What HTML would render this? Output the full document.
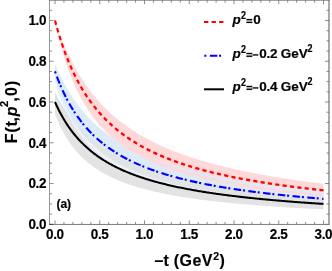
<!DOCTYPE html>
<html><head><meta charset="utf-8"><title>plot</title>
<style>html,body{margin:0;padding:0;background:#fff;overflow:hidden}svg text{font-family:"Liberation Sans",sans-serif}</style></head>
<body>
<svg width="332" height="271" viewBox="0 0 332 271" style="display:block">
<rect width="332" height="271" fill="#fff"/>
<polygon points="55.00,20.50 56.35,24.54 57.70,28.43 59.05,32.16 60.40,35.76 61.75,39.23 63.10,42.56 64.44,45.79 65.79,48.90 67.14,51.90 68.49,54.80 69.84,57.60 71.19,60.32 72.54,62.95 73.89,65.49 75.24,67.96 76.59,70.35 77.94,72.66 79.29,74.91 80.64,77.10 81.98,79.22 83.33,81.28 84.68,83.28 86.03,85.23 87.38,87.12 88.73,88.96 90.08,90.76 91.43,92.51 92.78,94.21 94.13,95.87 95.48,97.48 96.83,99.06 98.18,100.60 99.53,102.10 100.87,103.57 102.22,105.00 103.57,106.39 104.92,107.76 106.27,109.09 107.62,110.39 108.97,111.67 110.32,112.91 111.67,114.13 113.02,115.32 114.37,116.49 115.72,117.63 117.07,118.75 118.41,119.84 119.76,120.92 121.11,121.97 122.46,123.00 123.81,124.01 125.16,124.99 126.51,125.96 127.86,126.91 129.21,127.85 130.56,128.76 131.91,129.66 133.26,130.54 134.61,131.41 135.95,132.25 137.30,133.09 138.65,133.91 140.00,134.71 141.35,135.50 142.70,136.28 144.05,137.04 145.40,137.79 146.75,138.53 148.10,139.25 149.45,139.96 150.80,140.66 152.15,141.35 153.49,142.03 154.84,142.70 156.19,143.35 157.54,144.00 158.89,144.63 160.24,145.26 161.59,145.87 162.94,146.48 164.29,147.08 165.64,147.66 166.99,148.24 168.34,148.81 169.69,149.37 171.04,149.93 172.38,150.47 173.73,151.01 175.08,151.54 176.43,152.06 177.78,152.58 179.13,153.08 180.48,153.58 181.83,154.08 183.18,154.56 184.53,155.04 185.88,155.51 187.23,155.98 188.58,156.44 189.92,156.90 191.27,157.34 192.62,157.79 193.97,158.22 195.32,158.65 196.67,159.08 198.02,159.50 199.37,159.91 200.72,160.32 202.07,160.72 203.42,161.12 204.77,161.52 206.12,161.91 207.46,162.29 208.81,162.67 210.16,163.04 211.51,163.42 212.86,163.78 214.21,164.14 215.56,164.50 216.91,164.85 218.26,165.20 219.61,165.55 220.96,165.89 222.31,166.22 223.66,166.56 225.01,166.89 226.35,167.21 227.70,167.53 229.05,167.85 230.40,168.17 231.75,168.48 233.10,168.78 234.45,169.09 235.80,169.39 237.15,169.69 238.50,169.98 239.85,170.27 241.20,170.56 242.55,170.85 243.89,171.13 245.24,171.41 246.59,171.69 247.94,171.96 249.29,172.23 250.64,172.50 251.99,172.76 253.34,173.02 254.69,173.28 256.04,173.54 257.39,173.80 258.74,174.05 260.09,174.30 261.43,174.54 262.78,174.79 264.13,175.03 265.48,175.27 266.83,175.51 268.18,175.74 269.53,175.98 270.88,176.21 272.23,176.44 273.58,176.66 274.93,176.89 276.28,177.11 277.63,177.33 278.97,177.55 280.32,177.76 281.67,177.98 283.02,178.19 284.37,178.40 285.72,178.61 287.07,178.81 288.42,179.02 289.77,179.22 291.12,179.42 292.47,179.62 293.82,179.82 295.17,180.01 296.52,180.21 297.86,180.40 299.21,180.59 300.56,180.78 301.91,180.97 303.26,181.15 304.61,181.34 305.96,181.52 307.31,181.70 308.66,181.88 310.01,182.06 311.36,182.23 312.71,182.41 314.06,182.58 315.40,182.75 316.75,182.92 318.10,183.09 319.45,183.26 320.80,183.43 322.15,183.59 323.50,183.76 323.50,196.44 322.15,196.32 320.80,196.20 319.45,196.08 318.10,195.95 316.75,195.82 315.40,195.70 314.06,195.57 312.71,195.44 311.36,195.31 310.01,195.18 308.66,195.05 307.31,194.91 305.96,194.78 304.61,194.64 303.26,194.50 301.91,194.36 300.56,194.22 299.21,194.08 297.86,193.94 296.52,193.80 295.17,193.65 293.82,193.50 292.47,193.35 291.12,193.20 289.77,193.05 288.42,192.90 287.07,192.75 285.72,192.59 284.37,192.43 283.02,192.27 281.67,192.11 280.32,191.95 278.97,191.79 277.63,191.62 276.28,191.46 274.93,191.29 273.58,191.12 272.23,190.94 270.88,190.77 269.53,190.59 268.18,190.42 266.83,190.24 265.48,190.05 264.13,189.87 262.78,189.68 261.43,189.50 260.09,189.31 258.74,189.12 257.39,188.92 256.04,188.73 254.69,188.53 253.34,188.33 251.99,188.12 250.64,187.92 249.29,187.71 247.94,187.50 246.59,187.29 245.24,187.08 243.89,186.86 242.55,186.64 241.20,186.42 239.85,186.19 238.50,185.97 237.15,185.73 235.80,185.50 234.45,185.27 233.10,185.03 231.75,184.79 230.40,184.54 229.05,184.29 227.70,184.04 226.35,183.79 225.01,183.53 223.66,183.27 222.31,183.01 220.96,182.74 219.61,182.47 218.26,182.19 216.91,181.92 215.56,181.64 214.21,181.35 212.86,181.06 211.51,180.77 210.16,180.47 208.81,180.17 207.46,179.86 206.12,179.55 204.77,179.24 203.42,178.92 202.07,178.60 200.72,178.27 199.37,177.94 198.02,177.60 196.67,177.26 195.32,176.91 193.97,176.56 192.62,176.20 191.27,175.84 189.92,175.47 188.58,175.10 187.23,174.72 185.88,174.33 184.53,173.94 183.18,173.54 181.83,173.14 180.48,172.73 179.13,172.31 177.78,171.88 176.43,171.45 175.08,171.01 173.73,170.57 172.38,170.11 171.04,169.65 169.69,169.18 168.34,168.71 166.99,168.22 165.64,167.73 164.29,167.23 162.94,166.71 161.59,166.19 160.24,165.66 158.89,165.12 157.54,164.57 156.19,164.01 154.84,163.44 153.49,162.86 152.15,162.26 150.80,161.66 149.45,161.04 148.10,160.41 146.75,159.77 145.40,159.11 144.05,158.45 142.70,157.76 141.35,157.07 140.00,156.35 138.65,155.63 137.30,154.89 135.95,154.13 134.61,153.35 133.26,152.56 131.91,151.75 130.56,150.92 129.21,150.07 127.86,149.20 126.51,148.31 125.16,147.40 123.81,146.47 122.46,145.52 121.11,144.54 119.76,143.54 118.41,142.51 117.07,141.45 115.72,140.37 114.37,139.26 113.02,138.12 111.67,136.94 110.32,135.74 108.97,134.50 107.62,133.23 106.27,131.92 104.92,130.57 103.57,129.18 102.22,127.75 100.87,126.28 99.53,124.76 98.18,123.19 96.83,121.57 95.48,119.90 94.13,118.18 92.78,116.39 91.43,114.55 90.08,112.64 88.73,110.66 87.38,108.62 86.03,106.49 84.68,104.29 83.33,102.01 81.98,99.63 80.64,97.16 79.29,94.60 77.94,91.92 76.59,89.14 75.24,86.23 73.89,83.20 72.54,80.03 71.19,76.71 69.84,73.24 68.49,69.60 67.14,65.78 65.79,61.77 64.44,57.55 63.10,53.10 61.75,48.41 60.40,43.46 59.05,38.22 57.70,32.66 56.35,26.77 55.00,20.50" fill="#ffd9d9"/>
<polygon points="55.00,63.86 56.35,67.06 57.70,70.14 59.05,73.09 60.40,75.93 61.75,78.67 63.10,81.30 64.44,83.84 65.79,86.28 67.14,88.64 68.49,90.92 69.84,93.13 71.19,95.26 72.54,97.31 73.89,99.31 75.24,101.24 76.59,103.11 77.94,104.92 79.29,106.68 80.64,108.38 81.98,110.04 83.33,111.65 84.68,113.21 86.03,114.73 87.38,116.20 88.73,117.64 90.08,119.03 91.43,120.39 92.78,121.72 94.13,123.01 95.48,124.26 96.83,125.49 98.18,126.68 99.53,127.85 100.87,128.98 102.22,130.09 103.57,131.17 104.92,132.23 106.27,133.26 107.62,134.27 108.97,135.26 110.32,136.22 111.67,137.16 113.02,138.09 114.37,138.99 115.72,139.87 117.07,140.73 118.41,141.58 119.76,142.41 121.11,143.22 122.46,144.01 123.81,144.79 125.16,145.55 126.51,146.30 127.86,147.03 129.21,147.75 130.56,148.46 131.91,149.15 133.26,149.83 134.61,150.49 135.95,151.15 137.30,151.79 138.65,152.42 140.00,153.04 141.35,153.64 142.70,154.24 144.05,154.83 145.40,155.40 146.75,155.97 148.10,156.53 149.45,157.07 150.80,157.61 152.15,158.14 153.49,158.66 154.84,159.17 156.19,159.67 157.54,160.17 158.89,160.66 160.24,161.14 161.59,161.61 162.94,162.07 164.29,162.53 165.64,162.98 166.99,163.43 168.34,163.86 169.69,164.29 171.04,164.72 172.38,165.13 173.73,165.55 175.08,165.95 176.43,166.35 177.78,166.75 179.13,167.13 180.48,167.52 181.83,167.89 183.18,168.27 184.53,168.63 185.88,168.99 187.23,169.35 188.58,169.70 189.92,170.06 191.27,170.41 192.62,170.77 193.97,171.11 195.32,171.46 196.67,171.80 198.02,172.13 199.37,172.46 200.72,172.79 202.07,173.11 203.42,173.43 204.77,173.74 206.12,174.05 207.46,174.36 208.81,174.66 210.16,174.96 211.51,175.25 212.86,175.54 214.21,175.83 215.56,176.12 216.91,176.40 218.26,176.68 219.61,176.95 220.96,177.23 222.31,177.49 223.66,177.76 225.01,178.02 226.35,178.28 227.70,178.54 229.05,178.79 230.40,179.04 231.75,179.29 233.10,179.54 234.45,179.78 235.80,180.02 237.15,180.26 238.50,180.50 239.85,180.73 241.20,180.96 242.55,181.19 243.89,181.41 245.24,181.64 246.59,181.86 247.94,182.08 249.29,182.29 250.64,182.51 251.99,182.72 253.34,182.93 254.69,183.14 256.04,183.34 257.39,183.55 258.74,183.75 260.09,183.95 261.43,184.15 262.78,184.34 264.13,184.53 265.48,184.73 266.83,184.92 268.18,185.11 269.53,185.29 270.88,185.48 272.23,185.66 273.58,185.84 274.93,186.02 276.28,186.20 277.63,186.38 278.97,186.55 280.32,186.72 281.67,186.89 283.02,187.06 284.37,187.23 285.72,187.40 287.07,187.57 288.42,187.73 289.77,187.89 291.12,188.05 292.47,188.21 293.82,188.37 295.17,188.53 296.52,188.68 297.86,188.84 299.21,188.99 300.56,189.14 301.91,189.29 303.26,189.44 304.61,189.59 305.96,189.73 307.31,189.88 308.66,190.02 310.01,190.17 311.36,190.31 312.71,190.45 314.06,190.59 315.40,190.73 316.75,190.86 318.10,191.00 319.45,191.13 320.80,191.27 322.15,191.40 323.50,191.53 323.50,205.03 322.15,204.95 320.80,204.86 319.45,204.78 318.10,204.69 316.75,204.60 315.40,204.52 314.06,204.43 312.71,204.34 311.36,204.25 310.01,204.16 308.66,204.06 307.31,203.97 305.96,203.88 304.61,203.78 303.26,203.69 301.91,203.59 300.56,203.49 299.21,203.40 297.86,203.30 296.52,203.20 295.17,203.10 293.82,202.99 292.47,202.89 291.12,202.79 289.77,202.68 288.42,202.58 287.07,202.47 285.72,202.36 284.37,202.25 283.02,202.14 281.67,202.03 280.32,201.92 278.97,201.80 277.63,201.69 276.28,201.57 274.93,201.46 273.58,201.34 272.23,201.22 270.88,201.10 269.53,200.98 268.18,200.85 266.83,200.73 265.48,200.60 264.13,200.47 262.78,200.35 261.43,200.22 260.09,200.08 258.74,199.95 257.39,199.82 256.04,199.68 254.69,199.54 253.34,199.40 251.99,199.26 250.64,199.12 249.29,198.98 247.94,198.83 246.59,198.68 245.24,198.54 243.89,198.39 242.55,198.23 241.20,198.08 239.85,197.92 238.50,197.76 237.15,197.61 235.80,197.44 234.45,197.28 233.10,197.11 231.75,196.95 230.40,196.78 229.05,196.60 227.70,196.43 226.35,196.25 225.01,196.08 223.66,195.89 222.31,195.71 220.96,195.53 219.61,195.34 218.26,195.15 216.91,194.95 215.56,194.76 214.21,194.56 212.86,194.36 211.51,194.16 210.16,193.95 208.81,193.74 207.46,193.53 206.12,193.31 204.77,193.09 203.42,192.87 202.07,192.65 200.72,192.42 199.37,192.19 198.02,191.96 196.67,191.72 195.32,191.48 193.97,191.23 192.62,190.98 191.27,190.73 189.92,190.48 188.58,190.22 187.23,189.95 185.88,189.68 184.53,189.41 183.18,189.13 181.83,188.85 180.48,188.57 179.13,188.28 177.78,187.98 176.43,187.68 175.08,187.38 173.73,187.07 172.38,186.75 171.04,186.43 169.69,186.10 168.34,185.77 166.99,185.43 165.64,185.09 164.29,184.74 162.94,184.38 161.59,184.02 160.24,183.65 158.89,183.27 157.54,182.89 156.19,182.50 154.84,182.10 153.49,181.70 152.15,181.28 150.80,180.86 149.45,180.43 148.10,179.99 146.75,179.55 145.40,179.09 144.05,178.62 142.70,178.15 141.35,177.66 140.00,177.17 138.65,176.66 137.30,176.14 135.95,175.61 134.61,175.07 133.26,174.52 131.91,173.96 130.56,173.38 129.21,172.79 127.86,172.18 126.51,171.56 125.16,170.92 123.81,170.27 122.46,169.61 121.11,168.92 119.76,168.22 118.41,167.50 117.07,166.77 115.72,166.01 114.37,165.23 113.02,164.44 111.67,163.62 110.32,162.77 108.97,161.91 107.62,161.02 106.27,160.10 104.92,159.16 103.57,158.19 102.22,157.19 100.87,156.15 99.53,155.09 98.18,153.99 96.83,152.86 95.48,151.69 94.13,150.48 92.78,149.23 91.43,147.94 90.08,146.60 88.73,145.21 87.38,143.77 86.03,142.28 84.68,140.74 83.33,139.13 81.98,137.46 80.64,135.73 79.29,133.92 77.94,132.04 76.59,130.08 75.24,128.03 73.89,125.90 72.54,123.66 71.19,121.32 69.84,118.87 68.49,116.31 67.14,113.61 65.79,110.77 64.44,107.79 63.10,104.64 61.75,101.32 60.40,97.82 59.05,94.10 57.70,90.16 56.35,85.97 55.00,81.52" fill="#dcebfa"/>
<polygon points="55.00,20.50 56.35,26.24 57.70,31.67 59.05,36.81 60.40,41.68 61.75,46.30 63.10,50.70 64.44,54.88 65.79,58.87 67.14,62.67 68.49,66.30 69.84,69.78 71.19,73.10 72.54,76.28 73.89,79.34 75.24,82.27 76.59,85.08 77.94,87.78 79.29,90.38 80.64,92.89 81.98,95.30 83.33,97.62 84.68,99.87 86.03,102.03 87.38,104.12 88.73,106.14 90.08,108.09 91.43,109.98 92.78,111.81 94.13,113.58 95.48,115.30 96.83,116.96 98.18,118.58 99.53,120.15 100.87,121.67 102.22,123.14 103.57,124.58 104.92,125.97 106.27,127.33 107.62,128.65 108.97,129.93 110.32,131.18 111.67,132.40 113.02,133.59 114.37,134.74 115.72,135.87 117.07,136.97 118.41,138.04 119.76,139.08 121.11,140.10 122.46,141.10 123.81,142.07 125.16,143.03 126.51,143.95 127.86,144.86 129.21,145.75 130.56,146.62 131.91,147.47 133.26,148.30 134.61,149.11 135.95,149.91 137.30,150.69 138.65,151.45 140.00,152.20 141.35,152.93 142.70,153.64 144.05,154.35 145.40,155.04 146.75,155.71 148.10,156.38 149.45,157.03 150.80,157.66 152.15,158.29 153.49,158.90 154.84,159.51 156.19,160.10 157.54,160.68 158.89,161.25 160.24,161.81 161.59,162.36 162.94,162.90 164.29,163.43 165.64,163.96 166.99,164.47 168.34,164.97 169.69,165.47 171.04,165.96 172.38,166.44 173.73,166.91 175.08,167.38 176.43,167.83 177.78,168.28 179.13,168.73 180.48,169.16 181.83,169.59 183.18,170.01 184.53,170.43 185.88,170.84 187.23,171.24 188.58,171.64 189.92,172.03 191.27,172.42 192.62,172.80 193.97,173.17 195.32,173.54 196.67,173.91 198.02,174.26 199.37,174.62 200.72,174.97 202.07,175.31 203.42,175.65 204.77,175.98 206.12,176.31 207.46,176.64 208.81,176.96 210.16,177.28 211.51,177.59 212.86,177.90 214.21,178.20 215.56,178.50 216.91,178.80 218.26,179.09 219.61,179.38 220.96,179.66 222.31,179.95 223.66,180.22 225.01,180.50 226.35,180.77 227.70,181.04 229.05,181.30 230.40,181.56 231.75,181.82 233.10,182.08 234.45,182.33 235.80,182.58 237.15,182.82 238.50,183.07 239.85,183.31 241.20,183.55 242.55,183.78 243.89,184.01 245.24,184.24 246.59,184.47 247.94,184.69 249.29,184.92 250.64,185.14 251.99,185.35 253.34,185.57 254.69,185.78 256.04,185.99 257.39,186.20 258.74,186.40 260.09,186.61 261.43,186.81 262.78,187.01 264.13,187.20 265.48,187.40 266.83,187.59 268.18,187.78 269.53,187.97 270.88,188.16 272.23,188.34 273.58,188.52 274.93,188.71 276.28,188.88 277.63,189.06 278.97,189.24 280.32,189.41 281.67,189.58 283.02,189.75 284.37,189.92 285.72,190.09 287.07,190.26 288.42,190.42 289.77,190.58 291.12,190.74 292.47,190.90 293.82,191.06 295.17,191.22 296.52,191.37 297.86,191.53 299.21,191.68 300.56,191.83 301.91,191.98 303.26,192.13 304.61,192.27 305.96,192.42 307.31,192.56 308.66,192.70 310.01,192.85 311.36,192.99 312.71,193.13 314.06,193.26 315.40,193.40 316.75,193.53 318.10,193.67 319.45,193.80 320.80,193.93 322.15,194.06 323.50,194.19 323.50,196.44 322.15,196.32 320.80,196.20 319.45,196.08 318.10,195.95 316.75,195.82 315.40,195.70 314.06,195.57 312.71,195.44 311.36,195.31 310.01,195.18 308.66,195.05 307.31,194.91 305.96,194.78 304.61,194.64 303.26,194.50 301.91,194.36 300.56,194.22 299.21,194.08 297.86,193.94 296.52,193.80 295.17,193.65 293.82,193.50 292.47,193.35 291.12,193.20 289.77,193.05 288.42,192.90 287.07,192.75 285.72,192.59 284.37,192.43 283.02,192.27 281.67,192.11 280.32,191.95 278.97,191.79 277.63,191.62 276.28,191.46 274.93,191.29 273.58,191.12 272.23,190.94 270.88,190.77 269.53,190.59 268.18,190.42 266.83,190.24 265.48,190.05 264.13,189.87 262.78,189.68 261.43,189.50 260.09,189.31 258.74,189.12 257.39,188.92 256.04,188.73 254.69,188.53 253.34,188.33 251.99,188.12 250.64,187.92 249.29,187.71 247.94,187.50 246.59,187.29 245.24,187.08 243.89,186.86 242.55,186.64 241.20,186.42 239.85,186.19 238.50,185.97 237.15,185.73 235.80,185.50 234.45,185.27 233.10,185.03 231.75,184.79 230.40,184.54 229.05,184.29 227.70,184.04 226.35,183.79 225.01,183.53 223.66,183.27 222.31,183.01 220.96,182.74 219.61,182.47 218.26,182.19 216.91,181.92 215.56,181.64 214.21,181.35 212.86,181.06 211.51,180.77 210.16,180.47 208.81,180.17 207.46,179.86 206.12,179.55 204.77,179.24 203.42,178.92 202.07,178.60 200.72,178.27 199.37,177.94 198.02,177.60 196.67,177.26 195.32,176.91 193.97,176.56 192.62,176.20 191.27,175.84 189.92,175.47 188.58,175.10 187.23,174.72 185.88,174.33 184.53,173.94 183.18,173.54 181.83,173.14 180.48,172.73 179.13,172.31 177.78,171.88 176.43,171.45 175.08,171.01 173.73,170.57 172.38,170.11 171.04,169.65 169.69,169.18 168.34,168.71 166.99,168.22 165.64,167.73 164.29,167.23 162.94,166.71 161.59,166.19 160.24,165.66 158.89,165.12 157.54,164.57 156.19,164.01 154.84,163.44 153.49,162.86 152.15,162.26 150.80,161.66 149.45,161.04 148.10,160.41 146.75,159.77 145.40,159.11 144.05,158.45 142.70,157.76 141.35,157.07 140.00,156.35 138.65,155.63 137.30,154.89 135.95,154.13 134.61,153.35 133.26,152.56 131.91,151.75 130.56,150.92 129.21,150.07 127.86,149.20 126.51,148.31 125.16,147.40 123.81,146.47 122.46,145.52 121.11,144.54 119.76,143.54 118.41,142.51 117.07,141.45 115.72,140.37 114.37,139.26 113.02,138.12 111.67,136.94 110.32,135.74 108.97,134.50 107.62,133.23 106.27,131.92 104.92,130.57 103.57,129.18 102.22,127.75 100.87,126.28 99.53,124.76 98.18,123.19 96.83,121.57 95.48,119.90 94.13,118.18 92.78,116.39 91.43,114.55 90.08,112.64 88.73,110.66 87.38,108.62 86.03,106.49 84.68,104.29 83.33,102.01 81.98,99.63 80.64,97.16 79.29,94.60 77.94,91.92 76.59,89.14 75.24,86.23 73.89,83.20 72.54,80.03 71.19,76.71 69.84,73.24 68.49,69.60 67.14,65.78 65.79,61.77 64.44,57.55 63.10,53.10 61.75,48.41 60.40,43.46 59.05,38.22 57.70,32.66 56.35,26.77 55.00,20.50" fill="#ffd9d9"/>
<polygon points="55.00,92.01 56.35,94.65 57.70,97.19 59.05,99.63 60.40,101.98 61.75,104.24 63.10,106.42 64.44,108.52 65.79,110.55 67.14,112.51 68.49,114.40 69.84,116.23 71.19,118.00 72.54,119.71 73.89,121.37 75.24,122.97 76.59,124.53 77.94,126.04 79.29,127.50 80.64,128.93 81.98,130.31 83.33,131.65 84.68,132.95 86.03,134.22 87.38,135.45 88.73,136.65 90.08,137.82 91.43,138.95 92.78,140.06 94.13,141.14 95.48,142.19 96.83,143.22 98.18,144.22 99.53,145.19 100.87,146.14 102.22,147.07 103.57,147.98 104.92,148.87 106.27,149.73 107.62,150.58 108.97,151.41 110.32,152.22 111.67,153.01 113.02,153.78 114.37,154.54 115.72,155.28 117.07,156.01 118.41,156.72 119.76,157.41 121.11,158.10 122.46,158.76 123.81,159.42 125.16,160.06 126.51,160.69 127.86,161.31 129.21,161.91 130.56,162.51 131.91,163.09 133.26,163.66 134.61,164.22 135.95,164.77 137.30,165.31 138.65,165.84 140.00,166.37 141.35,166.88 142.70,167.38 144.05,167.88 145.40,168.36 146.75,168.84 148.10,169.31 149.45,169.77 150.80,170.22 152.15,170.67 153.49,171.11 154.84,171.54 156.19,171.97 157.54,172.39 158.89,172.80 160.24,173.20 161.59,173.60 162.94,173.99 164.29,174.38 165.64,174.76 166.99,175.14 168.34,175.51 169.69,175.87 171.04,176.23 172.38,176.58 173.73,176.93 175.08,177.27 176.43,177.61 177.78,177.94 179.13,178.27 180.48,178.60 181.83,178.92 183.18,179.23 184.53,179.54 185.88,179.85 187.23,180.15 188.58,180.45 189.92,180.74 191.27,181.03 192.62,181.32 193.97,181.60 195.32,181.88 196.67,182.16 198.02,182.43 199.37,182.70 200.72,182.96 202.07,183.22 203.42,183.48 204.77,183.74 206.12,183.99 207.46,184.24 208.81,184.48 210.16,184.72 211.51,184.96 212.86,185.20 214.21,185.44 215.56,185.67 216.91,185.90 218.26,186.12 219.61,186.34 220.96,186.56 222.31,186.78 223.66,187.00 225.01,187.21 226.35,187.42 227.70,187.63 229.05,187.84 230.40,188.04 231.75,188.24 233.10,188.44 234.45,188.64 235.80,188.83 237.15,189.02 238.50,189.22 239.85,189.40 241.20,189.59 242.55,189.77 243.89,189.96 245.24,190.14 246.59,190.32 247.94,190.49 249.29,190.67 250.64,190.84 251.99,191.01 253.34,191.18 254.69,191.35 256.04,191.52 257.39,191.68 258.74,191.85 260.09,192.01 261.43,192.17 262.78,192.32 264.13,192.48 265.48,192.64 266.83,192.79 268.18,192.94 269.53,193.09 270.88,193.24 272.23,193.39 273.58,193.54 274.93,193.68 276.28,193.83 277.63,193.97 278.97,194.11 280.32,194.25 281.67,194.39 283.02,194.52 284.37,194.66 285.72,194.79 287.07,194.93 288.42,195.06 289.77,195.19 291.12,195.32 292.47,195.45 293.82,195.58 295.17,195.70 296.52,195.83 297.86,195.95 299.21,196.08 300.56,196.20 301.91,196.32 303.26,196.44 304.61,196.56 305.96,196.68 307.31,196.79 308.66,196.91 310.01,197.03 311.36,197.14 312.71,197.25 314.06,197.36 315.40,197.48 316.75,197.59 318.10,197.70 319.45,197.80 320.80,197.91 322.15,198.02 323.50,198.12 323.50,209.39 322.15,209.32 320.80,209.26 319.45,209.19 318.10,209.12 316.75,209.06 315.40,208.99 314.06,208.92 312.71,208.85 311.36,208.78 310.01,208.71 308.66,208.64 307.31,208.57 305.96,208.49 304.61,208.42 303.26,208.35 301.91,208.27 300.56,208.20 299.21,208.12 297.86,208.05 296.52,207.97 295.17,207.89 293.82,207.81 292.47,207.73 291.12,207.65 289.77,207.57 288.42,207.49 287.07,207.41 285.72,207.32 284.37,207.24 283.02,207.15 281.67,207.07 280.32,206.98 278.97,206.89 277.63,206.80 276.28,206.71 274.93,206.62 273.58,206.53 272.23,206.44 270.88,206.35 269.53,206.25 268.18,206.16 266.83,206.06 265.48,205.96 264.13,205.86 262.78,205.76 261.43,205.66 260.09,205.56 258.74,205.46 257.39,205.35 256.04,205.25 254.69,205.14 253.34,205.04 251.99,204.93 250.64,204.82 249.29,204.71 247.94,204.59 246.59,204.48 245.24,204.36 243.89,204.25 242.55,204.13 241.20,204.01 239.85,203.89 238.50,203.77 237.15,203.64 235.80,203.52 234.45,203.39 233.10,203.26 231.75,203.13 230.40,203.00 229.05,202.87 227.70,202.74 226.35,202.60 225.01,202.46 223.66,202.32 222.31,202.18 220.96,202.04 219.61,201.89 218.26,201.74 216.91,201.59 215.56,201.44 214.21,201.29 212.86,201.13 211.51,200.98 210.16,200.82 208.81,200.66 207.46,200.49 206.12,200.33 204.77,200.16 203.42,199.99 202.07,199.81 200.72,199.64 199.37,199.46 198.02,199.28 196.67,199.09 195.32,198.91 193.97,198.72 192.62,198.53 191.27,198.33 189.92,198.13 188.58,197.93 187.23,197.73 185.88,197.52 184.53,197.31 183.18,197.10 181.83,196.88 180.48,196.66 179.13,196.43 177.78,196.21 176.43,195.97 175.08,195.74 173.73,195.50 172.38,195.25 171.04,195.01 169.69,194.75 168.34,194.50 166.99,194.24 165.64,193.97 164.29,193.70 162.94,193.43 161.59,193.15 160.24,192.86 158.89,192.57 157.54,192.27 156.19,191.97 154.84,191.66 153.49,191.35 152.15,191.03 150.80,190.71 149.45,190.37 148.10,190.04 146.75,189.69 145.40,189.34 144.05,188.98 142.70,188.61 141.35,188.24 140.00,187.85 138.65,187.46 137.30,187.06 135.95,186.65 134.61,186.24 133.26,185.81 131.91,185.37 130.56,184.93 129.21,184.47 127.86,184.00 126.51,183.52 125.16,183.03 123.81,182.53 122.46,182.02 121.11,181.49 119.76,180.95 118.41,180.39 117.07,179.82 115.72,179.24 114.37,178.64 113.02,178.03 111.67,177.39 110.32,176.74 108.97,176.07 107.62,175.39 106.27,174.68 104.92,173.95 103.57,173.20 102.22,172.43 100.87,171.64 99.53,170.81 98.18,169.97 96.83,169.09 95.48,168.19 94.13,167.26 92.78,166.30 91.43,165.30 90.08,164.27 88.73,163.20 87.38,162.09 86.03,160.94 84.68,159.75 83.33,158.51 81.98,157.23 80.64,155.89 79.29,154.50 77.94,153.05 76.59,151.54 75.24,149.97 73.89,148.32 72.54,146.60 71.19,144.80 69.84,142.92 68.49,140.94 67.14,138.86 65.79,136.68 64.44,134.39 63.10,131.97 61.75,129.42 60.40,126.72 59.05,123.87 57.70,120.84 56.35,117.62 55.00,114.20" fill="#e3e3e3"/>
<polygon points="55.00,78.32 56.35,82.55 57.70,86.54 59.05,90.31 60.40,93.89 61.75,97.28 63.10,100.49 64.44,103.55 65.79,106.46 67.14,109.23 68.49,111.88 69.84,114.40 71.19,116.82 72.54,119.13 73.89,121.34 75.24,123.47 76.59,125.50 77.94,127.46 79.29,129.34 80.64,131.15 81.98,132.89 83.33,134.57 84.68,136.19 86.03,137.74 87.38,139.25 88.73,140.70 90.08,142.11 91.43,143.47 92.78,144.78 94.13,146.05 95.48,147.29 96.83,148.48 98.18,149.64 99.53,150.76 100.87,151.85 102.22,152.91 103.57,153.94 104.92,154.93 106.27,155.90 107.62,156.85 108.97,157.76 110.32,158.66 111.67,159.53 113.02,160.37 114.37,161.20 115.72,162.00 117.07,162.79 118.41,163.55 119.76,164.30 121.11,165.02 122.46,165.73 123.81,166.43 125.16,167.10 126.51,167.76 127.86,168.41 129.21,169.04 130.56,169.66 131.91,170.26 133.26,170.85 134.61,171.43 135.95,172.00 137.30,172.55 138.65,173.09 140.00,173.62 141.35,174.14 142.70,174.65 144.05,175.15 145.40,175.64 146.75,176.12 148.10,176.59 149.45,177.05 150.80,177.50 152.15,177.95 153.49,178.38 154.84,178.81 156.19,179.23 157.54,179.64 158.89,180.04 160.24,180.44 161.59,180.83 162.94,181.21 164.29,181.59 165.64,181.96 166.99,182.32 168.34,182.68 169.69,183.03 171.04,183.38 172.38,183.72 173.73,184.05 175.08,184.38 176.43,184.70 177.78,185.02 179.13,185.33 180.48,185.64 181.83,185.94 183.18,186.24 184.53,186.54 185.88,186.83 187.23,187.11 188.58,187.39 189.92,187.67 191.27,187.94 192.62,188.21 193.97,188.47 195.32,188.73 196.67,188.99 198.02,189.24 199.37,189.49 200.72,189.74 202.07,189.98 203.42,190.22 204.77,190.46 206.12,190.69 207.46,190.92 208.81,191.15 210.16,191.37 211.51,191.59 212.86,191.81 214.21,192.02 215.56,192.23 216.91,192.44 218.26,192.65 219.61,192.85 220.96,193.05 222.31,193.25 223.66,193.45 225.01,193.64 226.35,193.83 227.70,194.02 229.05,194.21 230.40,194.39 231.75,194.57 233.10,194.75 234.45,194.93 235.80,195.10 237.15,195.28 238.50,195.45 239.85,195.62 241.20,195.79 242.55,195.95 243.89,196.11 245.24,196.28 246.59,196.44 247.94,196.59 249.29,196.75 250.64,196.90 251.99,197.06 253.34,197.21 254.69,197.36 256.04,197.50 257.39,197.65 258.74,197.79 260.09,197.94 261.43,198.08 262.78,198.22 264.13,198.36 265.48,198.49 266.83,198.63 268.18,198.76 269.53,198.90 270.88,199.03 272.23,199.16 273.58,199.29 274.93,199.41 276.28,199.54 277.63,199.66 278.97,199.79 280.32,199.91 281.67,200.03 283.02,200.15 284.37,200.27 285.72,200.39 287.07,200.50 288.42,200.62 289.77,200.73 291.12,200.85 292.47,200.96 293.82,201.07 295.17,201.18 296.52,201.29 297.86,201.39 299.21,201.50 300.56,201.61 301.91,201.71 303.26,201.82 304.61,201.92 305.96,202.02 307.31,202.12 308.66,202.22 310.01,202.32 311.36,202.42 312.71,202.52 314.06,202.61 315.40,202.71 316.75,202.80 318.10,202.90 319.45,202.99 320.80,203.08 322.15,203.18 323.50,203.27 323.50,205.03 322.15,204.95 320.80,204.86 319.45,204.78 318.10,204.69 316.75,204.60 315.40,204.52 314.06,204.43 312.71,204.34 311.36,204.25 310.01,204.16 308.66,204.06 307.31,203.97 305.96,203.88 304.61,203.78 303.26,203.69 301.91,203.59 300.56,203.49 299.21,203.40 297.86,203.30 296.52,203.20 295.17,203.10 293.82,202.99 292.47,202.89 291.12,202.79 289.77,202.68 288.42,202.58 287.07,202.47 285.72,202.36 284.37,202.25 283.02,202.14 281.67,202.03 280.32,201.92 278.97,201.80 277.63,201.69 276.28,201.57 274.93,201.46 273.58,201.34 272.23,201.22 270.88,201.10 269.53,200.98 268.18,200.85 266.83,200.73 265.48,200.60 264.13,200.47 262.78,200.35 261.43,200.22 260.09,200.08 258.74,199.95 257.39,199.82 256.04,199.68 254.69,199.54 253.34,199.40 251.99,199.26 250.64,199.12 249.29,198.98 247.94,198.83 246.59,198.68 245.24,198.54 243.89,198.39 242.55,198.23 241.20,198.08 239.85,197.92 238.50,197.76 237.15,197.61 235.80,197.44 234.45,197.28 233.10,197.11 231.75,196.95 230.40,196.78 229.05,196.60 227.70,196.43 226.35,196.25 225.01,196.08 223.66,195.89 222.31,195.71 220.96,195.53 219.61,195.34 218.26,195.15 216.91,194.95 215.56,194.76 214.21,194.56 212.86,194.36 211.51,194.16 210.16,193.95 208.81,193.74 207.46,193.53 206.12,193.31 204.77,193.09 203.42,192.87 202.07,192.65 200.72,192.42 199.37,192.19 198.02,191.96 196.67,191.72 195.32,191.48 193.97,191.23 192.62,190.98 191.27,190.73 189.92,190.48 188.58,190.22 187.23,189.95 185.88,189.68 184.53,189.41 183.18,189.13 181.83,188.85 180.48,188.57 179.13,188.28 177.78,187.98 176.43,187.68 175.08,187.38 173.73,187.07 172.38,186.75 171.04,186.43 169.69,186.10 168.34,185.77 166.99,185.43 165.64,185.09 164.29,184.74 162.94,184.38 161.59,184.02 160.24,183.65 158.89,183.27 157.54,182.89 156.19,182.50 154.84,182.10 153.49,181.70 152.15,181.28 150.80,180.86 149.45,180.43 148.10,179.99 146.75,179.55 145.40,179.09 144.05,178.62 142.70,178.15 141.35,177.66 140.00,177.17 138.65,176.66 137.30,176.14 135.95,175.61 134.61,175.07 133.26,174.52 131.91,173.96 130.56,173.38 129.21,172.79 127.86,172.18 126.51,171.56 125.16,170.92 123.81,170.27 122.46,169.61 121.11,168.92 119.76,168.22 118.41,167.50 117.07,166.77 115.72,166.01 114.37,165.23 113.02,164.44 111.67,163.62 110.32,162.77 108.97,161.91 107.62,161.02 106.27,160.10 104.92,159.16 103.57,158.19 102.22,157.19 100.87,156.15 99.53,155.09 98.18,153.99 96.83,152.86 95.48,151.69 94.13,150.48 92.78,149.23 91.43,147.94 90.08,146.60 88.73,145.21 87.38,143.77 86.03,142.28 84.68,140.74 83.33,139.13 81.98,137.46 80.64,135.73 79.29,133.92 77.94,132.04 76.59,130.08 75.24,128.03 73.89,125.90 72.54,123.66 71.19,121.32 69.84,118.87 68.49,116.31 67.14,113.61 65.79,110.77 64.44,107.79 63.10,104.64 61.75,101.32 60.40,97.82 59.05,94.10 57.70,90.16 56.35,85.97 55.00,81.52" fill="#e9f1fa"/>
<polyline points="55.00,102.02 56.12,104.52 57.24,106.91 58.36,109.21 59.48,111.43 60.59,113.56 61.71,115.61 62.83,117.58 63.95,119.49 65.07,121.33 66.19,123.10 67.31,124.82 68.42,126.48 69.54,128.08 70.66,129.63 71.78,131.13 72.90,132.59 74.02,134.00 75.14,135.37 76.26,136.70 77.38,137.98 78.49,139.24 79.61,140.45 80.73,141.63 81.85,142.78 82.97,143.90 84.09,144.98 85.21,146.04 86.33,147.07 87.44,148.07 88.56,149.05 89.68,150.00 90.80,150.93 91.92,151.84 93.04,152.72 94.16,153.58 95.28,154.43 96.39,155.25 97.51,156.05 98.63,156.84 99.75,157.60 100.87,158.35 101.99,159.08 103.11,159.80 104.22,160.50 105.34,161.19 106.46,161.86 107.58,162.52 108.70,163.16 109.82,163.79 110.94,164.41 112.06,165.01 113.18,165.61 114.29,166.19 115.41,166.76 116.53,167.32 117.65,167.86 118.77,168.40 119.89,168.93 121.01,169.45 122.12,169.95 123.24,170.45 124.36,170.94 125.48,171.42 126.60,171.89 127.72,172.36 128.84,172.81 129.96,173.26 131.07,173.70 132.19,174.13 133.31,174.56 134.43,174.98 135.55,175.39 136.67,175.79 137.79,176.19 138.91,176.58 140.03,176.97 141.14,177.34 142.26,177.72 143.38,178.08 144.50,178.45 145.62,178.80 146.74,179.15 147.86,179.50 148.98,179.83 150.09,180.17 151.21,180.50 152.33,180.82 153.45,181.14 154.57,181.46 155.69,181.77 156.81,182.07 157.93,182.38 159.04,182.67 160.16,182.97 161.28,183.25 162.40,183.54 163.52,183.82 164.64,184.10 165.76,184.37 166.88,184.64 167.99,184.91 169.11,185.17 170.23,185.43 171.35,185.69 172.47,185.94 173.59,186.19 174.71,186.43 175.82,186.68 176.94,186.92 178.06,187.15 179.18,187.39 180.30,187.62 181.42,187.84 182.54,188.07 183.66,188.29 184.78,188.51 185.89,188.73 187.01,188.94 188.13,189.15 189.25,189.36 190.37,189.57 191.49,189.77 192.61,189.98 193.72,190.18 194.84,190.37 195.96,190.57 197.08,190.76 198.20,190.95 199.32,191.14 200.44,191.33 201.56,191.51 202.68,191.69 203.79,191.87 204.91,192.05 206.03,192.23 207.15,192.40 208.27,192.57 209.39,192.74 210.51,192.91 211.62,193.08 212.74,193.24 213.86,193.41 214.98,193.57 216.10,193.73 217.22,193.89 218.34,194.05 219.46,194.20 220.58,194.35 221.69,194.51 222.81,194.66 223.93,194.81 225.05,194.95 226.17,195.10 227.29,195.24 228.41,195.39 229.53,195.53 230.64,195.67 231.76,195.81 232.88,195.95 234.00,196.08 235.12,196.22 236.24,196.35 237.36,196.48 238.48,196.61 239.59,196.74 240.71,196.87 241.83,197.00 242.95,197.13 244.07,197.25 245.19,197.38 246.31,197.50 247.42,197.62 248.54,197.74 249.66,197.86 250.78,197.98 251.90,198.10 253.02,198.21 254.14,198.33 255.26,198.44 256.38,198.56 257.49,198.67 258.61,198.78 259.73,198.89 260.85,199.00 261.97,199.11 263.09,199.22 264.21,199.32 265.33,199.43 266.44,199.53 267.56,199.64 268.68,199.74 269.80,199.84 270.92,199.95 272.04,200.05 273.16,200.15 274.27,200.24 275.39,200.34 276.51,200.44 277.63,200.54 278.75,200.63 279.87,200.73 280.99,200.82 282.11,200.92 283.23,201.01 284.34,201.10 285.46,201.19 286.58,201.28 287.70,201.37 288.82,201.46 289.94,201.55 291.06,201.64 292.18,201.73 293.29,201.81 294.41,201.90 295.53,201.98 296.65,202.07 297.77,202.15 298.89,202.23 300.01,202.32 301.12,202.40 302.24,202.48 303.36,202.56 304.48,202.64 305.60,202.72 306.72,202.80 307.84,202.88 308.96,202.96 310.08,203.03 311.19,203.11 312.31,203.19 313.43,203.26 314.55,203.34 315.67,203.41 316.79,203.49 317.91,203.56 319.03,203.63 320.14,203.71 321.26,203.78 322.38,203.85 323.50,203.92" fill="none" stroke="#000000" stroke-width="2.05"/>
<polyline points="55.00,71.45 56.12,74.57 57.24,77.56 58.36,80.44 59.48,83.21 60.59,85.87 61.71,88.43 62.83,90.90 63.95,93.29 65.07,95.58 66.19,97.80 67.31,99.95 68.42,102.02 69.54,104.02 70.66,105.96 71.78,107.84 72.90,109.66 74.02,111.43 75.14,113.14 76.26,114.80 77.38,116.41 78.49,117.97 79.61,119.49 80.73,120.96 81.85,122.40 82.97,123.80 84.09,125.15 85.21,126.48 86.33,127.76 87.44,129.02 88.56,130.24 89.68,131.43 90.80,132.59 91.92,133.72 93.04,134.83 94.16,135.90 95.28,136.96 96.39,137.98 97.51,138.99 98.63,139.97 99.75,140.93 100.87,141.86 101.99,142.78 103.11,143.68 104.22,144.55 105.34,145.41 106.46,146.25 107.58,147.07 108.70,147.88 109.82,148.66 110.94,149.43 112.06,150.19 113.18,150.93 114.29,151.66 115.41,152.37 116.53,153.07 117.65,153.75 118.77,154.43 119.89,155.08 121.01,155.73 122.12,156.37 123.24,156.99 124.36,157.60 125.48,158.20 126.60,158.79 127.72,159.37 128.84,159.94 129.96,160.50 131.07,161.05 132.19,161.59 133.31,162.12 134.43,162.65 135.55,163.16 136.67,163.67 137.79,164.16 138.91,164.65 140.03,165.13 141.14,165.61 142.26,166.07 143.38,166.53 144.50,166.98 145.62,167.43 146.74,167.86 147.86,168.29 148.98,168.72 150.09,169.14 151.21,169.55 152.33,169.95 153.45,170.35 154.57,170.75 155.69,171.13 156.81,171.52 157.93,171.89 159.04,172.27 160.16,172.63 161.28,172.99 162.40,173.35 163.52,173.70 164.64,174.05 165.76,174.39 166.88,174.73 167.99,175.06 169.11,175.39 170.23,175.71 171.35,176.03 172.47,176.35 173.59,176.66 174.71,176.97 175.82,177.27 176.94,177.57 178.06,177.86 179.18,178.16 180.30,178.45 181.42,178.73 182.54,179.01 183.66,179.29 184.78,179.56 185.89,179.83 187.01,180.10 188.13,180.37 189.25,180.63 190.37,180.89 191.49,181.14 192.61,181.39 193.72,181.64 194.84,181.89 195.96,182.13 197.08,182.38 198.20,182.61 199.32,182.85 200.44,183.08 201.56,183.31 202.68,183.54 203.79,183.77 204.91,183.99 206.03,184.21 207.15,184.43 208.27,184.64 209.39,184.85 210.51,185.07 211.62,185.27 212.74,185.48 213.86,185.69 214.98,185.89 216.10,186.09 217.22,186.29 218.34,186.48 219.46,186.68 220.58,186.87 221.69,187.06 222.81,187.25 223.93,187.43 225.05,187.62 226.17,187.80 227.29,187.98 228.41,188.16 229.53,188.34 230.64,188.51 231.76,188.68 232.88,188.86 234.00,189.03 235.12,189.20 236.24,189.36 237.36,189.53 238.48,189.69 239.59,189.85 240.71,190.02 241.83,190.18 242.95,190.33 244.07,190.49 245.19,190.64 246.31,190.80 247.42,190.95 248.54,191.10 249.66,191.25 250.78,191.40 251.90,191.55 253.02,191.69 254.14,191.84 255.26,191.98 256.38,192.12 257.49,192.26 258.61,192.40 259.73,192.54 260.85,192.68 261.97,192.81 263.09,192.95 264.21,193.08 265.33,193.21 266.44,193.34 267.56,193.47 268.68,193.60 269.80,193.73 270.92,193.86 272.04,193.98 273.16,194.11 274.27,194.23 275.39,194.35 276.51,194.48 277.63,194.60 278.75,194.72 279.87,194.83 280.99,194.95 282.11,195.07 283.23,195.19 284.34,195.30 285.46,195.41 286.58,195.53 287.70,195.64 288.82,195.75 289.94,195.86 291.06,195.97 292.18,196.08 293.29,196.19 294.41,196.30 295.53,196.40 296.65,196.51 297.77,196.61 298.89,196.72 300.01,196.82 301.12,196.92 302.24,197.03 303.36,197.13 304.48,197.23 305.60,197.33 306.72,197.43 307.84,197.52 308.96,197.62 310.08,197.72 311.19,197.81 312.31,197.91 313.43,198.00 314.55,198.10 315.67,198.19 316.79,198.28 317.91,198.37 319.03,198.47 320.14,198.56 321.26,198.65 322.38,198.74 323.50,198.83" fill="none" stroke="#0000ff" stroke-width="2.1" stroke-dasharray="2 3.45 7.5 1.87" stroke-dashoffset="0"/>
<polyline transform="scale(1 1.08)" points="55.00,18.98 56.12,22.83 57.24,26.53 58.36,30.08 59.48,33.50 60.59,36.78 61.71,39.95 62.83,43.00 63.95,45.94 65.07,48.78 66.19,51.52 67.31,54.16 68.42,56.72 69.54,59.20 70.66,61.59 71.78,63.91 72.90,66.16 74.02,68.33 75.14,70.45 76.26,72.49 77.38,74.48 78.49,76.41 79.61,78.29 80.73,80.11 81.85,81.88 82.97,83.61 84.09,85.28 85.21,86.91 86.33,88.50 87.44,90.05 88.56,91.56 89.68,93.03 90.80,94.46 91.92,95.86 93.04,97.22 94.16,98.56 95.28,99.85 96.39,101.12 97.51,102.36 98.63,103.57 99.75,104.76 100.87,105.91 101.99,107.04 103.11,108.15 104.22,109.23 105.34,110.29 106.46,111.33 107.58,112.34 108.70,113.33 109.82,114.31 110.94,115.26 112.06,116.19 113.18,117.11 114.29,118.00 115.41,118.88 116.53,119.75 117.65,120.59 118.77,121.42 119.89,122.23 121.01,123.03 122.12,123.82 123.24,124.59 124.36,125.34 125.48,126.08 126.60,126.81 127.72,127.53 128.84,128.23 129.96,128.92 131.07,129.60 132.19,130.27 133.31,130.92 134.43,131.57 135.55,132.20 136.67,132.83 137.79,133.44 138.91,134.04 140.03,134.64 141.14,135.22 142.26,135.80 143.38,136.36 144.50,136.92 145.62,137.47 146.74,138.01 147.86,138.54 148.98,139.07 150.09,139.58 151.21,140.09 152.33,140.59 153.45,141.08 154.57,141.57 155.69,142.05 156.81,142.52 157.93,142.99 159.04,143.45 160.16,143.90 161.28,144.34 162.40,144.78 163.52,145.22 164.64,145.65 165.76,146.07 166.88,146.48 167.99,146.89 169.11,147.30 170.23,147.70 171.35,148.09 172.47,148.48 173.59,148.87 174.71,149.25 175.82,149.62 176.94,149.99 178.06,150.36 179.18,150.72 180.30,151.07 181.42,151.43 182.54,151.77 183.66,152.12 184.78,152.45 185.89,152.79 187.01,153.12 188.13,153.45 189.25,153.77 190.37,154.09 191.49,154.40 192.61,154.72 193.72,155.02 194.84,155.33 195.96,155.63 197.08,155.93 198.20,156.22 199.32,156.51 200.44,156.80 201.56,157.08 202.68,157.36 203.79,157.64 204.91,157.92 206.03,158.19 207.15,158.46 208.27,158.72 209.39,158.99 210.51,159.25 211.62,159.51 212.74,159.76 213.86,160.01 214.98,160.26 216.10,160.51 217.22,160.75 218.34,161.00 219.46,161.24 220.58,161.47 221.69,161.71 222.81,161.94 223.93,162.17 225.05,162.40 226.17,162.62 227.29,162.84 228.41,163.07 229.53,163.28 230.64,163.50 231.76,163.72 232.88,163.93 234.00,164.14 235.12,164.35 236.24,164.55 237.36,164.76 238.48,164.96 239.59,165.16 240.71,165.36 241.83,165.56 242.95,165.75 244.07,165.94 245.19,166.14 246.31,166.33 247.42,166.51 248.54,166.70 249.66,166.88 250.78,167.07 251.90,167.25 253.02,167.43 254.14,167.61 255.26,167.78 256.38,167.96 257.49,168.13 258.61,168.30 259.73,168.47 260.85,168.64 261.97,168.81 263.09,168.98 264.21,169.14 265.33,169.30 266.44,169.47 267.56,169.63 268.68,169.79 269.80,169.94 270.92,170.10 272.04,170.26 273.16,170.41 274.27,170.56 275.39,170.71 276.51,170.86 277.63,171.01 278.75,171.16 279.87,171.31 280.99,171.45 282.11,171.60 283.23,171.74 284.34,171.88 285.46,172.02 286.58,172.16 287.70,172.30 288.82,172.44 289.94,172.58 291.06,172.71 292.18,172.85 293.29,172.98 294.41,173.11 295.53,173.24 296.65,173.38 297.77,173.50 298.89,173.63 300.01,173.76 301.12,173.89 302.24,174.01 303.36,174.14 304.48,174.26 305.60,174.38 306.72,174.51 307.84,174.63 308.96,174.75 310.08,174.87 311.19,174.99 312.31,175.10 313.43,175.22 314.55,175.34 315.67,175.45 316.79,175.57 317.91,175.68 319.03,175.79 320.14,175.90 321.26,176.01 322.38,176.12 323.50,176.23" fill="none" stroke="#ff0000" stroke-width="2.15" stroke-dasharray="4.15 3.254" stroke-dashoffset="0"/>
<path d="M55.00 224.45v-4.00M55.00 0.20v4.00M63.95 224.45v-2.50M63.95 0.20v2.50M72.90 224.45v-2.50M72.90 0.20v2.50M81.85 224.45v-2.50M81.85 0.20v2.50M90.80 224.45v-2.50M90.80 0.20v2.50M99.75 224.45v-4.00M99.75 0.20v4.00M108.70 224.45v-2.50M108.70 0.20v2.50M117.65 224.45v-2.50M117.65 0.20v2.50M126.60 224.45v-2.50M126.60 0.20v2.50M135.55 224.45v-2.50M135.55 0.20v2.50M144.50 224.45v-4.00M144.50 0.20v4.00M153.45 224.45v-2.50M153.45 0.20v2.50M162.40 224.45v-2.50M162.40 0.20v2.50M171.35 224.45v-2.50M171.35 0.20v2.50M180.30 224.45v-2.50M180.30 0.20v2.50M189.25 224.45v-4.00M189.25 0.20v4.00M198.20 224.45v-2.50M198.20 0.20v2.50M207.15 224.45v-2.50M207.15 0.20v2.50M216.10 224.45v-2.50M216.10 0.20v2.50M225.05 224.45v-2.50M225.05 0.20v2.50M234.00 224.45v-4.00M234.00 0.20v4.00M242.95 224.45v-2.50M242.95 0.20v2.50M251.90 224.45v-2.50M251.90 0.20v2.50M260.85 224.45v-2.50M260.85 0.20v2.50M269.80 224.45v-2.50M269.80 0.20v2.50M278.75 224.45v-4.00M278.75 0.20v4.00M287.70 224.45v-2.50M287.70 0.20v2.50M296.65 224.45v-2.50M296.65 0.20v2.50M305.60 224.45v-2.50M305.60 0.20v2.50M314.55 224.45v-2.50M314.55 0.20v2.50M323.50 224.45v-4.00M323.50 0.20v4.00M49.50 224.30h4.00M329.00 224.30h-4.00M49.50 214.11h2.50M329.00 214.11h-2.50M49.50 203.92h2.50M329.00 203.92h-2.50M49.50 193.73h2.50M329.00 193.73h-2.50M49.50 183.54h4.00M329.00 183.54h-4.00M49.50 173.35h2.50M329.00 173.35h-2.50M49.50 163.16h2.50M329.00 163.16h-2.50M49.50 152.97h2.50M329.00 152.97h-2.50M49.50 142.78h4.00M329.00 142.78h-4.00M49.50 132.59h2.50M329.00 132.59h-2.50M49.50 122.40h2.50M329.00 122.40h-2.50M49.50 112.21h2.50M329.00 112.21h-2.50M49.50 102.02h4.00M329.00 102.02h-4.00M49.50 91.83h2.50M329.00 91.83h-2.50M49.50 81.64h2.50M329.00 81.64h-2.50M49.50 71.45h2.50M329.00 71.45h-2.50M49.50 61.26h4.00M329.00 61.26h-4.00M49.50 51.07h2.50M329.00 51.07h-2.50M49.50 40.88h2.50M329.00 40.88h-2.50M49.50 30.69h2.50M329.00 30.69h-2.50M49.50 20.50h4.00M329.00 20.50h-4.00M49.50 10.31h2.50M329.00 10.31h-2.50" stroke="#808080" stroke-width="0.9" fill="none"/>
<path d="M49.5 0V224.9" stroke="#959595" stroke-width="1" fill="none"/>
<path d="M329 0V224.9" stroke="#6c6c6c" stroke-width="1.15" fill="none"/>
<path d="M49 224.45H329.5" stroke="#7c7c7c" stroke-width="1" fill="none"/>
<path d="M49 0.2H329.5" stroke="#6a6a6a" stroke-width="0.9" fill="none"/>
<path d="M49.5 224.45h3.6" stroke="#444" stroke-width="1" fill="none"/>
<g style="mix-blend-mode:multiply" stroke="#000" stroke-width="0.18" stroke-linejoin="round">
<g font-family="Liberation Sans, sans-serif" font-weight="bold" font-size="13.5px" letter-spacing="-0.35" fill="#000">
<text transform="translate(46.1 229.25) scale(1 1.035)" text-anchor="end">0.0</text>
<text transform="translate(46.1 188.49) scale(1 1.035)" text-anchor="end">0.2</text>
<text transform="translate(46.1 147.73) scale(1 1.035)" text-anchor="end">0.4</text>
<text transform="translate(46.1 106.97) scale(1 1.035)" text-anchor="end">0.6</text>
<text transform="translate(46.1 66.21) scale(1 1.035)" text-anchor="end">0.8</text>
<text transform="translate(46.1 25.45) scale(1 1.035)" text-anchor="end">1.0</text>
<text transform="translate(54.90 238.7) scale(1 1.035)" text-anchor="middle">0.0</text>
<text transform="translate(99.65 238.7) scale(1 1.035)" text-anchor="middle">0.5</text>
<text transform="translate(144.40 238.7) scale(1 1.035)" text-anchor="middle">1.0</text>
<text transform="translate(189.15 238.7) scale(1 1.035)" text-anchor="middle">1.5</text>
<text transform="translate(233.90 238.7) scale(1 1.035)" text-anchor="middle">2.0</text>
<text transform="translate(278.65 238.7) scale(1 1.035)" text-anchor="middle">2.5</text>
<text transform="translate(323.40 238.7) scale(1 1.035)" text-anchor="middle">3.0</text>
</g>
<text x="56.4" y="208.4" font-family="Liberation Sans, sans-serif" font-weight="bold" font-size="12px">(a)</text>
<path d="M204 21.9h19.5" stroke="#ff0000" stroke-width="2" stroke-dasharray="4.35 3.2" fill="none"/>
<path d="M204.3 55.8h17.3" stroke="#0000ff" stroke-width="2.1" stroke-dasharray="2.1 3.45 7.5 1.65 2.1 10" fill="none"/>
<path d="M204 89.3h20" stroke="#000000" stroke-width="2" fill="none"/>
<g font-family="Liberation Sans, sans-serif" font-weight="bold" font-size="13.5px"><text x="232.5" y="24.40" font-style="italic">p</text><text transform="translate(240.9 19.10) scale(0.9 1.13)" font-size="10px">2</text><rect x="246.5" y="19.00" width="5.7" height="1.3"/><rect x="246.5" y="21.70" width="5.7" height="1.3"/><text x="253.3" y="24.40">0</text></g>
<g font-family="Liberation Sans, sans-serif" font-weight="bold" font-size="13.5px"><text x="232.5" y="58.30" font-style="italic">p</text><text transform="translate(240.9 53.00) scale(0.9 1.13)" font-size="10px">2</text><rect x="246.5" y="52.90" width="5.7" height="1.3"/><rect x="246.5" y="55.60" width="5.7" height="1.3"/><rect x="252.7" y="54.30" width="5.5" height="1.25"/><text x="259.2" y="58.30" letter-spacing="-0.2">0.2</text><text x="280.8" y="58.30">GeV</text><text transform="translate(307.6 52.00) scale(0.9 1.13)" font-size="10px">2</text></g>
<g font-family="Liberation Sans, sans-serif" font-weight="bold" font-size="13.5px"><text x="232.5" y="91.30" font-style="italic">p</text><text transform="translate(240.9 86.00) scale(0.9 1.13)" font-size="10px">2</text><rect x="246.5" y="85.90" width="5.7" height="1.3"/><rect x="246.5" y="88.60" width="5.7" height="1.3"/><rect x="252.7" y="87.30" width="5.5" height="1.25"/><text x="259.2" y="91.30" letter-spacing="-0.2">0.4</text><text x="280.8" y="91.30">GeV</text><text transform="translate(307.6 85.00) scale(0.9 1.13)" font-size="10px">2</text></g>
<g font-family="Liberation Sans, sans-serif" font-weight="bold" font-size="16px">
<text x="154.5 163.39" y="266.2">–t</text>
<text x="173.8 179.5 192.44 201.84" y="266.2">(GeV</text>
<text x="213.2" y="259.7" font-size="10.5px">2</text>
<text x="219.6" y="266.2">)</text>
</g>
<g transform="translate(17.0 143.3) rotate(-90)" font-family="Liberation Sans, sans-serif" font-weight="bold" font-size="16px">
<text x="0 10.7 16.9 21.7" y="0">F(t,</text>
<text x="27.1" y="0" font-style="italic">p</text>
<text x="36.2" y="-8.6" font-size="11px">2</text>
<text x="41.8 47.4 57.2" y="0">,0)</text>
</g>
</g>
</svg>
</body></html>
